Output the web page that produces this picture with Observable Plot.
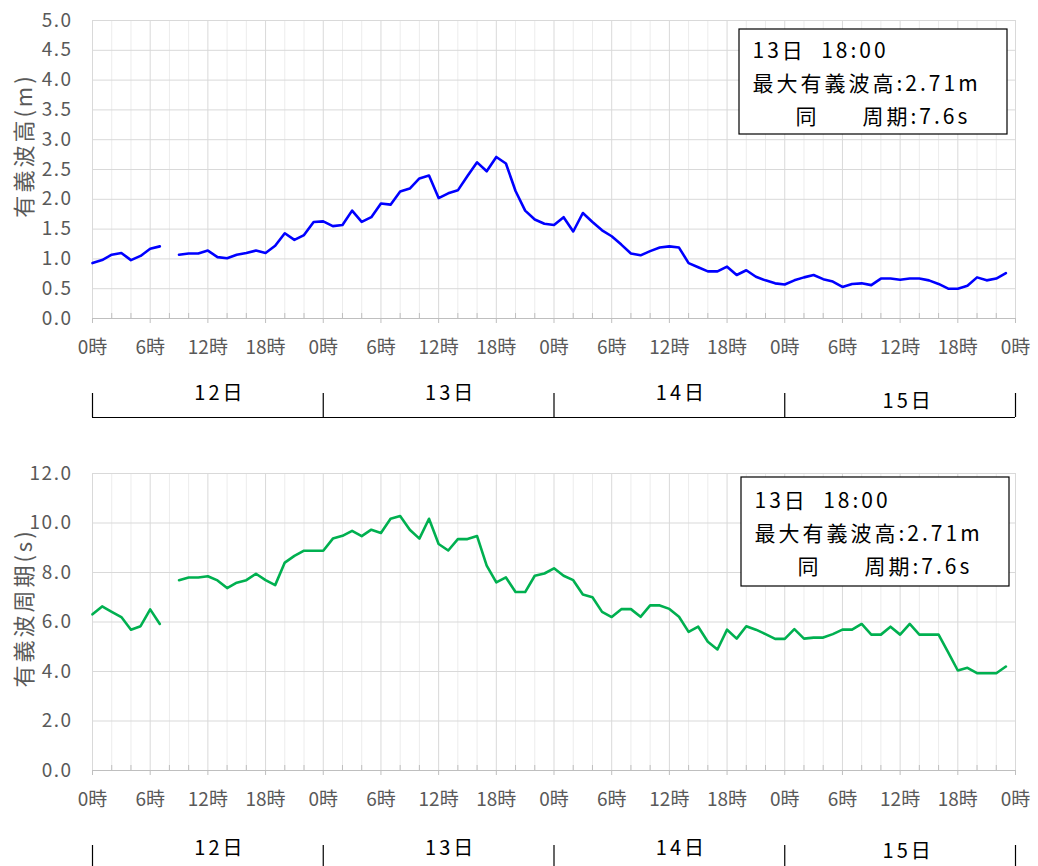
<!DOCTYPE html>
<html lang="ja">
<head>
<meta charset="utf-8">
<script src="https://cdn.jsdelivr.net/npm/d3@7"></script>
<script src="https://cdn.jsdelivr.net/npm/@observablehq/plot@0.6"></script>
<style>
  html, body { margin: 0; padding: 0; background: #fff; }
  #chart { width: 1038px; height: 866px; overflow: hidden; position: relative; background: #fff; }
  #chart svg { display: block; }
</style>
</head>
<body>
<div id="chart"></div>
<script>
const FONT = '"Noto Sans CJK JP", "Noto Sans", sans-serif';

// hourly observations, 12日 0時 (h=0) to 15日 23時 (h=95); h=8 missing
const hours = d3.range(0, 96);
const waveHeight = [
  0.93, 0.98, 1.07, 1.10, 0.98, 1.05, 1.17, 1.21, null, 1.07,
  1.09, 1.09, 1.14, 1.03, 1.01, 1.07, 1.10, 1.14, 1.10, 1.22,
  1.43, 1.32, 1.40, 1.62, 1.63, 1.55, 1.57, 1.81, 1.62, 1.70,
  1.93, 1.91, 2.13, 2.18, 2.35, 2.40, 2.02, 2.10, 2.15, 2.39,
  2.62, 2.47, 2.71, 2.60, 2.14, 1.81, 1.66, 1.59, 1.57, 1.70,
  1.46, 1.77, 1.62, 1.48, 1.38, 1.24, 1.09, 1.06, 1.13, 1.19,
  1.21, 1.19, 0.93, 0.86, 0.79, 0.79, 0.87, 0.73, 0.81, 0.70,
  0.64, 0.59, 0.57, 0.64, 0.69, 0.73, 0.66, 0.62, 0.53, 0.58,
  0.59, 0.56, 0.67, 0.67, 0.65, 0.67, 0.67, 0.64, 0.58, 0.50,
  0.50, 0.55, 0.69, 0.64, 0.67, 0.76
];
const wavePeriod = [
  6.31, 6.63, 6.41, 6.20, 5.69, 5.83, 6.51, 5.92, null, 7.69,
  7.80, 7.80, 7.85, 7.68, 7.37, 7.59, 7.69, 7.95, 7.69, 7.49,
  8.40, 8.67, 8.88, 8.88, 8.88, 9.37, 9.48, 9.68, 9.47, 9.73,
  9.60, 10.17, 10.28, 9.73, 9.37, 10.17, 9.15, 8.89, 9.35, 9.35,
  9.47, 8.28, 7.60, 7.80, 7.21, 7.21, 7.87, 7.96, 8.17, 7.87,
  7.69, 7.11, 7.00, 6.41, 6.20, 6.52, 6.52, 6.21, 6.67, 6.67,
  6.53, 6.21, 5.60, 5.81, 5.20, 4.89, 5.69, 5.33, 5.83, 5.69,
  5.51, 5.32, 5.32, 5.71, 5.33, 5.37, 5.37, 5.51, 5.69, 5.69,
  5.92, 5.49, 5.49, 5.81, 5.49, 5.92, 5.49, 5.49, 5.49, 4.77,
  4.04, 4.15, 3.93, 3.93, 3.93, 4.20
];

const heightTicks = [0, 0.5, 1, 1.5, 2, 2.5, 3, 3.5, 4, 4.5, 5];
const periodTicks = [0, 2, 4, 6, 8, 10, 12];
const hourTicks = d3.range(0, 97, 6);
const minorHourTicks = d3.range(0, 97, 2).filter(h => h % 6 !== 0);
const dayLabels = ["12日", "13日", "14日", "15日"];
const dayBounds = [0, 24, 48, 72, 96];

const noteTitle = "13日  18:00";
const noteMax = "最大有義波高:2.71m";
const noteSame = "同";
const notePeriod = "周期:7.6s";

function panel(o) {
  const W = 1038, ML = 92, MR = 23;
  const frameW = W - ML - MR;
  const yMax = o.yTicks[o.yTicks.length - 1];
  const frameH = o.height - o.marginTop - o.marginBottom;
  const X = px => (px - ML) / frameW * 96;
  const Y = py => yMax * (1 - (py - o.marginTop) / frameH);
  const data = hours.map((h, i) => ({h, v: o.values[i]}));
  const n = o.note, b = o.bracket;
  const textBase = {fontFamily: FONT};
  const svg = Plot.plot({
    width: W,
    height: o.height,
    marginTop: o.marginTop,
    marginBottom: o.marginBottom,
    marginLeft: ML,
    marginRight: MR,
    style: {fontFamily: FONT, background: "#fff", overflow: "visible"},
    x: {type: "linear", domain: [0, 96]},
    y: {type: "linear", domain: [0, yMax]},
    marks: [
      Plot.ruleX(minorHourTicks, {stroke: "#ececec"}),
      Plot.ruleX(hourTicks, {stroke: "#d9d9d9"}),
      Plot.ruleY(o.yTicks, {stroke: "#d9d9d9"}),
      Plot.ruleY([0], {stroke: "#bfbfbf"}),
      Plot.ruleX(minorHourTicks, {y1: 0, y2: Y(o.marginTop + frameH - 5), stroke: "#bfbfbf"}),
      Plot.ruleX(hourTicks, {y1: 0, y2: Y(o.marginTop + frameH + 5), stroke: "#bfbfbf"}),
      Plot.axisX(hourTicks, {
        tickFormat: h => `${h % 24}時`, tickSize: 0, tickPadding: 22,
        fontSize: 19, fill: "#595959", label: null
      }),
      Plot.axisY(o.yTicks, {
        tickFormat: d3.format(".1f"), tickSize: 0, tickPadding: 20,
        fontSize: 19, fill: "#595959", label: null
      }),
      Plot.text([o.yLabel], {
        frameAnchor: "left", dx: -68, dy: o.yLabelDy, rotate: -90,
        textAnchor: "middle", lineAnchor: "middle",
        fontSize: 22, fill: "#595959", ...textBase
      }),
      Plot.line(data, {x: "h", y: "v", stroke: o.color, strokeWidth: 2.6}),
      // annotation box
      Plot.rect([0], {
        x1: X(n.left), x2: X(n.right), y1: Y(n.top), y2: Y(n.bottom),
        fill: "#fff", stroke: "#000", strokeWidth: 1.2
      }),
      Plot.text([noteTitle, noteMax], {
        x: X(n.left + 13), y: (d, i) => Y(n.line1 + i * n.gap),
        textAnchor: "start", lineAnchor: "middle", fontSize: 21, fill: "#000", ...textBase
      }),
      Plot.text([noteSame], {
        x: X(n.left + 56), y: Y(n.line1 + 2 * n.gap),
        textAnchor: "start", lineAnchor: "middle", fontSize: 21, fill: "#000", ...textBase
      }),
      Plot.text([notePeriod], {
        x: X(n.left + 123), y: Y(n.line1 + 2 * n.gap),
        textAnchor: "start", lineAnchor: "middle", fontSize: 21, fill: "#000", ...textBase
      }),
      // day bracket below the hour axis
      Plot.ruleX(dayBounds, {y1: Y(b.top), y2: Y(b.bottom), stroke: "#000", strokeWidth: 1.2}),
      Plot.ruleY([Y(b.bottom)], {stroke: "#000", strokeWidth: 1.2}),
      Plot.text(dayLabels, {
        x: (d, i) => i * 24 + 12, y: Y(b.label), dx: 12,
        filter: (d, i) => i < 3,
        textAnchor: "middle", lineAnchor: "middle", fontSize: 20, fill: "#000", ...textBase
      }),
      Plot.text(dayLabels, {
        x: (d, i) => i * 24 + 12, y: Y(b.label), dx: 8, dy: b.lastDy,
        filter: (d, i) => i === 3,
        textAnchor: "middle", lineAnchor: "middle", fontSize: 20, fill: "#000", ...textBase
      })
    ]
  });
  // letter spacing to match the wide spacing of the original's Japanese font
  const wide = new Set([o.yLabel, noteTitle, noteMax, noteSame, notePeriod, ...dayLabels]);
  d3.select(svg).selectAll("text").each(function () {
    const t = this.textContent;
    if (wide.has(t)) this.style.letterSpacing = "3px";
  });
  d3.select(svg).selectAll('g[aria-label="y-axis tick label"] text').style("letter-spacing", "1.5px");
  return svg;
}

const chart = document.getElementById("chart");
chart.append(panel({
  values: waveHeight, color: "#0000ff", yTicks: heightTicks,
  yLabel: "有義波高(m)", yLabelDy: -24,
  height: 440, marginTop: 20, marginBottom: 122,
  note: {left: 739, right: 1007, top: 29, bottom: 134, line1: 51, gap: 33},
  bracket: {top: 393, bottom: 417, label: 393, lastDy: 8}
}));
chart.append(panel({
  values: wavePeriod, color: "#00b050", yTicks: periodTicks,
  yLabel: "有義波周期(s)", yLabelDy: -14,
  height: 426, marginTop: 33, marginBottom: 96,
  note: {left: 741, right: 1009, top: 37, bottom: 146, line1: 61, gap: 33},
  bracket: {top: 405, bottom: 430, label: 408, lastDy: 3}
}));
</script>
</body>
</html>
